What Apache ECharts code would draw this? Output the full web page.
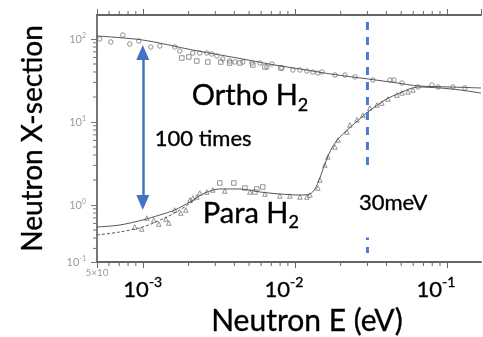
<!DOCTYPE html>
<html><head><meta charset="utf-8">
<script src="https://cdn.jsdelivr.net/npm/echarts@6/dist/echarts.min.js"></script>
<style>html,body{margin:0;padding:0;background:#fff}#c{width:483px;height:337px}</style>
</head><body><div id="c"></div>
<script>
// ---- axis ranges and tick labels ----
const xRange = [5e-4, 0.1674];
const yRange = [0.2057, 194.5];
const xTickValues = [5e-4, 1e-3, 1e-2, 1e-1];
const xTickBase = ['5×10', '10', '10', '10'];
const xTickExp = ['', '-3', '-2', '-1'];
const yTickValues = [0.2057, 1, 10, 100];
const yTickBase = ['10', '10', '10', '10'];
const yTickExp = ['-1', '0', '1', '2'];
const xMinorTicks = [6e-4,7e-4,8e-4,9e-4,2e-3,3e-3,4e-3,5e-3,6e-3,7e-3,8e-3,9e-3,2e-2,3e-2,4e-2,5e-2,6e-2,7e-2,8e-2,9e-2];
const yMinorTicks = [0.3,0.4,0.5,0.6,0.7,0.8,0.9,2,3,4,5,6,7,8,9,20,30,40,50,60,70,80,90];

// ---- theory curves ----
const orthoCurve = [[5e-4,108.7],[1e-3,97.2],[2.13e-3,73.6],[3.21e-3,64.3],[5.06e-3,55.3],[7.38e-3,48.6],[1.079e-2,43.5],[1.834e-2,37.2],[3.02e-2,33.0],[4.91e-2,29.2],[6.44e-2,27.2],[0.1047,26.4],[0.1674,25.7]];
const paraCurve = [[5e-4,0.543],[7.06e-4,0.574],[1e-3,0.66],[1.294e-3,0.758],[1.623e-3,0.87],[2.04e-3,1.087],[2.56e-3,1.395],[3.21e-3,1.56],[4.35e-3,1.56],[5.89e-3,1.435],[7.96e-3,1.357],[1.079e-2,1.32],[1.256e-2,1.357],[1.355e-2,1.56],[1.46e-2,2.115],[1.575e-2,3.12],[1.75e-2,4.86],[1.977e-2,6.6],[2.483e-2,9.7],[3.02e-2,13.2],[3.91e-2,18.4],[4.91e-2,22.4],[6.44e-2,26.4],[9.0e-2,25.7],[0.1219,24.3],[0.1674,22.3]];
const paraCurveDashed = [[5e-4,0.435],[7.06e-4,0.473],[1e-3,0.543],[1.395e-3,0.697],[1.751e-3,0.87],[2.2e-3,1.149]];

// ---- measured points ----
const orthoCircles = [[5.21e-4,100],[6.16e-4,92],[7.39e-4,111.7],[8.21e-4,87],[9.41e-4,94.6],[1.129e-3,80],[1.294e-3,82.4],[1.623e-3,80],[1.751e-3,71.7],[2.133e-3,67.8],[2.371e-3,67.8],[2.637e-3,67.8],[2.844e-3,65.9],[3.069e-3,62.4],[3.36e-3,57.4],[3.73e-3,54.3],[4.03e-3,52.8],[4.55e-3,52.8],[5.21e-3,51.4],[5.89e-3,51.4],[6.55e-3,46.0],[7.06e-3,50.0],[8.21e-3,44.7],[9.7e-3,42.3],[1.079e-2,42.3],[1.2e-2,41.1],[1.313e-2,40.0],[1.416e-2,38.9],[1.506e-2,40.0],[1.834e-2,36.8],[2.133e-2,36.8],[2.483e-2,34.9],[3.26e-2,32.1],[4.22e-2,32.1],[4.48e-2,32.1],[5.06e-2,29.5],[6.44e-2,26.4],[7.96e-2,27.9],[8.73e-2,26.4],[0.1094,26.4],[0.1312,25.7]];
const orthoSquares = [[1.806e-3,59.0],[2.007e-3,60.7],[2.266e-3,54.3],[2.677e-3,52.8],[3.26e-3,52.8],[3.73e-3,51.4],[4.35e-3,51.4],[5.29e-3,48.6],[6.35e-3,46.0],[8.09e-3,44.7]];
const paraTriangles = [[8.86e-4,0.543],[9.85e-4,0.514],[1.062e-3,0.697],[1.181e-3,0.66],[1.274e-3,0.59],[1.417e-3,0.678],[1.483e-3,0.607],[1.623e-3,0.87],[1.778e-3,0.80],[1.918e-3,0.87],[2.04e-3,1.149],[2.133e-3,1.214],[2.266e-3,1.249],[2.371e-3,1.395],[2.637e-3,1.435],[2.888e-3,1.516],[3.46e-3,1.475],[5.06e-3,1.435],[6.35e-3,1.357],[7.96e-3,1.284],[9.27e-3,1.284],[1.079e-2,1.249],[1.2e-2,1.249],[1.256e-2,1.32],[1.416e-2,1.60],[1.46e-2,2.0],[1.575e-2,3.03],[1.648e-2,3.79],[1.834e-2,5.0],[1.919e-2,6.07],[2.198e-2,7.58],[2.30e-2,9.2],[2.56e-2,10.6],[2.8e-2,12.1],[3.11e-2,14.7],[3.46e-2,16.0],[3.73e-2,16.9],[4.09e-2,18.9],[4.69e-2,21.1],[5.06e-2,22.4],[5.54e-2,23.0],[5.97e-2,24.3]];
const paraSquares = [[3.21e-3,1.841],[3.97e-3,1.841],[4.69e-3,1.60],[5.46e-3,1.435],[5.62e-3,1.56],[6.15e-3,1.648]];

// ---- annotations ----
const line30meV = [[0.03,160],[0.03,0.264]];
const arrowEnds = [[1e-3,68.8],[1e-3,1.07]];
const annotationPoints = [[2.1e-3,20.6],[2.48e-3,0.79],[1.2e-3,6.2],[0.0264,1.072]];
const annotationMain = ['Ortho H', 'Para H', '100 times', '30meV'];
const annotationSub = ['2', '2', '', ''];

const FONT = 'Lato';
const BLUE = '#4a7bd0';
const GREY_LINE = '#555';
const GREY_MARK = '#6a6a6a';
const INK = {color: '#000', textBorderColor: '#000', textBorderWidth: 0.35};

function idxOf(arr, v) {
  for (let i = 0; i < arr.length; i++) {
    if (Math.abs(Math.log10(v) - Math.log10(arr[i])) < 0.01) return i;
  }
  return -1;
}
const xPad = [0, 0, 9, 22];

const chart = echarts.init(document.getElementById('c'), null, {renderer: 'canvas'});
const tickData = xMinorTicks.map(v => [v, yRange[0], 0]).concat(yMinorTicks.map(v => [xRange[0], v, 1]));
const annotationData = annotationPoints.map(function (p, i) {
  if (i === 3) return {value: p, label: {backgroundColor: '#fff', padding: [24, 3, 24, 0]}};
  return {value: p};
});

const markerStyle = {color: 'rgba(255,255,255,0)', borderColor: GREY_MARK, borderWidth: 0.8, opacity: 0.9};

chart.setOption({
  animation: false,
  backgroundColor: '#fff',
  textStyle: {fontFamily: FONT},
  grid: {left: 97, right: 2, top: 15, bottom: 75, containLabel: false, outerBoundsMode: 'none'},
  xAxis: [{
    type: 'log', logBase: 10, min: xRange[0], max: xRange[1], position: 'bottom',
    axisLine: {show: true, lineStyle: {color: '#666', width: 2}},
    axisTick: {show: true, inside: false, length: 6, lineStyle: {color: '#666', width: 1}},
    splitLine: {show: false}, minorTick: {show: false},
    name: 'Neutron E (eV)', nameLocation: 'middle', nameGap: 44, nameMoveOverlap: false,
    nameTextStyle: Object.assign({fontFamily: FONT, fontSize: 30, padding: [0, 0, 0, 36]}, INK),
    axisLabel: {
      show: true, margin: 5, showMinLabel: true, showMaxLabel: false, hideOverlap: false,
      formatter: function (v) {
        const i = idxOf(xTickValues, v);
        if (i < 0) return '';
        if (i === 0) return '{g|' + xTickBase[i] + '}';
        return '{b|' + xTickBase[i] + '}{s|' + xTickExp[i] + '}' + (xPad[i] ? '{p| }' : '');
      },
      rich: {
        g: {fontFamily: FONT, fontSize: 10, color: '#9a9a9a', lineHeight: 12},
        b: Object.assign({fontFamily: FONT, fontSize: 22, padding: [12, 0, 0, 0]}, INK),
        s: Object.assign({fontFamily: FONT, fontSize: 14, padding: [0, 0, 4, 0]}, INK),
        p: {fontSize: 10, width: 22}
      }
    }
  }, {
    type: 'log', logBase: 10, min: xRange[0], max: xRange[1], position: 'top',
    axisLine: {show: true, lineStyle: {color: '#666', width: 2}},
    axisTick: {show: true, inside: false, length: 6, lineStyle: {color: '#666', width: 1}},
    axisLabel: {show: false}, splitLine: {show: false}
  }],
  yAxis: [{
    type: 'log', logBase: 10, min: yRange[0], max: yRange[1], position: 'left',
    axisLine: {show: true, lineStyle: {color: '#777', width: 2}},
    axisTick: {show: true, inside: false, length: 6, lineStyle: {color: '#777', width: 1}},
    splitLine: {show: false},
    name: 'Neutron X-section', nameLocation: 'middle', nameRotate: 90, nameGap: 50, nameMoveOverlap: false,
    nameTextStyle: Object.assign({fontFamily: FONT, fontSize: 28}, INK),
    axisLabel: {
      show: true, margin: 11, showMinLabel: true, showMaxLabel: false, hideOverlap: false,
      formatter: function (v) {
        const i = idxOf(yTickValues, v);
        if (i < 0) return '';
        return '{g|' + yTickBase[i] + '}{gs|' + yTickExp[i] + '}';
      },
      rich: {
        g: {fontFamily: FONT, fontSize: 11, color: '#9a9a9a'},
        gs: {fontFamily: FONT, fontSize: 7, color: '#9a9a9a', padding: [0, 0, 6, 0]}
      }
    }
  }],
  series: [
    {
      name: 'minorTicks', type: 'custom', clip: false, silent: true, z: 5,
      data: tickData, encode: {x: 0, y: 1},
      renderItem: function (params, api) {
        const kind = api.value(2);
        if (kind === 0) {
          const b = api.coord([api.value(0), yRange[0]]);
          const t = api.coord([api.value(0), yRange[1]]);
          return {type: 'group', children: [
            {type: 'line', shape: {x1: b[0], y1: b[1], x2: b[0], y2: b[1] + 4}, style: {stroke: '#666', lineWidth: 1}},
            {type: 'line', shape: {x1: t[0], y1: t[1], x2: t[0], y2: t[1] - 4}, style: {stroke: '#666', lineWidth: 1}}
          ]};
        }
        const p = api.coord([xRange[0], api.value(1)]);
        return {type: 'line', shape: {x1: p[0], y1: p[1], x2: p[0] - 4, y2: p[1]}, style: {stroke: '#777', lineWidth: 1}};
      }
    },
    {name: 'Ortho theory', type: 'line', data: orthoCurve, smooth: 0.3, showSymbol: false, silent: true,
     lineStyle: {color: GREY_LINE, width: 1}},
    {name: 'Para theory', type: 'line', data: paraCurve, smooth: 0.3, showSymbol: false, silent: true,
     lineStyle: {color: GREY_LINE, width: 1}},
    {name: 'Para theory dashed', type: 'line', data: paraCurveDashed, smooth: 0.3, showSymbol: false, silent: true,
     lineStyle: {color: GREY_LINE, width: 1, type: [3, 2]}},
    {name: 'Ortho circles', type: 'scatter', data: orthoCircles, symbol: 'circle', symbolSize: 4.5, silent: true, itemStyle: markerStyle},
    {name: 'Ortho squares', type: 'scatter', data: orthoSquares, symbol: 'rect', symbolSize: 4.5, silent: true, itemStyle: markerStyle},
    {name: 'Para triangles', type: 'scatter', data: paraTriangles, symbol: 'triangle', symbolSize: 4.5, silent: true, itemStyle: markerStyle},
    {name: 'Para squares', type: 'scatter', data: paraSquares, symbol: 'rect', symbolSize: 4.5, silent: true, itemStyle: markerStyle},
    {
      name: '30meV', type: 'line', data: line30meV, showSymbol: false, silent: true, z: 4,
      lineStyle: {color: BLUE, width: 3, type: [8, 7]},
      markLine: {
        silent: true, symbol: ['triangle', 'triangle'], symbolSize: [13, 15],
        label: {show: false},
        lineStyle: {color: '#4472c4', width: 2.5, type: 'solid'},
        itemStyle: {color: '#4472c4'},
        data: [[{coord: arrowEnds[0]}, {coord: arrowEnds[1]}]]
      }
    },
    {
      name: 'annotations', type: 'scatter', data: annotationData, symbolSize: 0, silent: true, z: 10,
      itemStyle: {opacity: 1},
      label: {
        show: true, position: 'right', distance: 0, color: '#000', opacity: 1,
        formatter: function (p) {
          const i = p.dataIndex;
          if (i < 2) return '{big|' + annotationMain[i] + '}{sub|' + annotationSub[i] + '}';
          return '{mid|' + annotationMain[i] + '}';
        },
        rich: {
          big: Object.assign({fontFamily: FONT, fontSize: 29, lineHeight: 34}, INK),
          sub: Object.assign({fontFamily: FONT, fontSize: 18, padding: [18, 0, 0, 0]}, INK),
          mid: Object.assign({fontFamily: FONT, fontSize: 22}, INK)
        }
      }
    }
  ]
});
</script>
</body></html>
